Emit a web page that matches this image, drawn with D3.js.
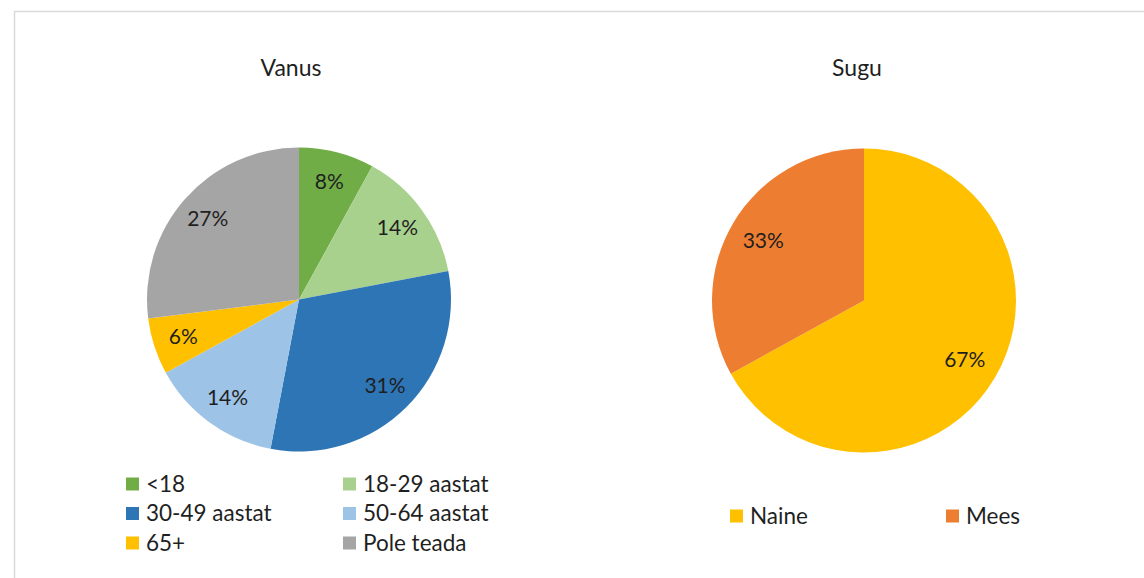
<!DOCTYPE html>
<html>
<head>
<meta charset="utf-8">
<script src="https://cdn.jsdelivr.net/npm/d3@7"></script>
<style>
  body { margin: 0; background: #fff; }
  svg { font-family: Lato, "Open Sans", sans-serif; }
</style>
</head>
<body>
<div id="chart"></div>
<script>
// age chart
const ageLabels = ['<18', '18-29 aastat', '30-49 aastat', '50-64 aastat', '65+', 'Pole teada'];
const ageValues = [8, 14, 31, 14, 6, 27];
const ageColors = ['#70ad47', '#a9d18e', '#2e75b6', '#9dc3e6', '#ffc000', '#a5a5a5'];

// gender chart
const sexLabels = ['Naine', 'Mees'];
const sexValues = [67, 33];
const sexColors = ['#ffc000', '#ed7d31'];

const width = 1144;
const height = 578;
const radius = 152;

const svg = d3.select('#chart')
              .append('svg')
              .attr('width', width)
              .attr('height', height);

// chart area border
svg.append('rect')
   .attr('x', 14.5)
   .attr('y', 11.5)
   .attr('width', width)
   .attr('height', height)
   .attr('fill', 'none')
   .attr('stroke', '#d9d9d9')
   .attr('stroke-width', 1.5);

const pie = d3.pie().sort(null).value((d) => d.value);
const arc = d3.arc().innerRadius(0).outerRadius(radius);

function drawPie(title, labels, values, colors, cx, cy, titleX, labelR) {
  const data = labels.map((l, i) => ({ label: l, value: values[i], color: colors[i] }));
  const g = svg.append('g').attr('transform', 'translate(' + cx + ',' + cy + ')');
  const labelArc = d3.arc().innerRadius(radius * labelR).outerRadius(radius * labelR);

  g.selectAll('path')
   .data(pie(data))
   .enter()
   .append('path')
   .attr('d', arc)
   .attr('fill', (d) => d.data.color);

  g.selectAll('.lbl')
   .data(pie(data))
   .enter()
   .append('text')
   .attr('class', 'lbl')
   .attr('transform', (d) => 'translate(' + labelArc.centroid(d) + ')')
   .attr('text-anchor', 'middle')
   .attr('dy', '0.35em')
   .style('font-size', '21px')
   .style('fill', '#1f1f1f')
   .text((d) => d.data.value + '%');

  svg.append('text')
     .attr('x', titleX)
     .attr('y', 68)
     .attr('text-anchor', 'middle')
     .attr('dy', '0.35em')
     .style('font-size', '23px')
     .style('fill', '#1f1f1f')
     .text(title);
}

drawPie('Vanus', ageLabels, ageValues, ageColors, 299, 299.5, 291, 0.8);
drawPie('Sugu', sexLabels, sexValues, sexColors, 864, 300.5, 857, 0.77);

// legends
function drawLegend(labels, colors, x0, colW, y0, rowH, cols) {
  const items = svg.selectAll(null)
                   .data(labels)
                   .enter()
                   .append('g')
                   .attr('transform', (d, i) => 'translate(' + (x0 + (i % cols) * colW) + ',' + (y0 + Math.floor(i / cols) * rowH) + ')');
  items.append('rect')
       .attr('x', 0)
       .attr('y', -6.5)
       .attr('width', 13)
       .attr('height', 13)
       .attr('fill', (d, i) => colors[i]);
  items.append('text')
       .attr('x', 20)
       .attr('dy', '0.35em')
       .style('font-size', '22.5px')
       .style('fill', '#1f1f1f')
       .text((d) => d);
}

drawLegend(ageLabels, ageColors, 126, 217, 484, 29.5, 2);
drawLegend(sexLabels, sexColors, 730, 216, 516, 0, 2);
</script>
</body>
</html>
